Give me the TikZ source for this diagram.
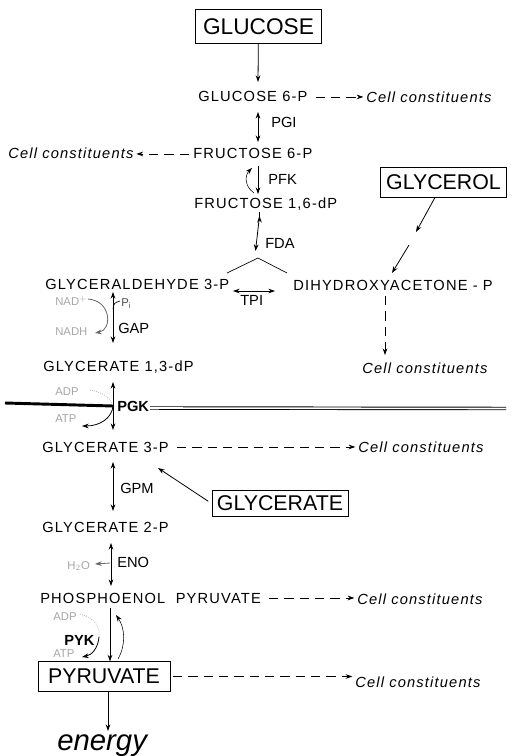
\documentclass[tikz,border=0pt]{standalone}
\usepackage{fontspec}
\setmainfont{Liberation Sans}
\newfontfamily\lab[LetterSpace=8]{Liberation Sans}
\usetikzlibrary{arrows.meta}
\begin{document}
\begin{tikzpicture}[x=0.75pt,y=-0.75pt,
  lbl/.style={font=\lab\fontsize{11}{13}\selectfont, anchor=base west, inner sep=0pt},
  cc/.style={font=\lab\itshape\fontsize{11}{13}\selectfont, anchor=base west, inner sep=0pt},
  enz/.style={font=\fontsize{11}{13}\selectfont, anchor=base west, inner sep=0pt},
  faint/.style={font=\fontsize{8.5}{10}\selectfont, text=black!35, anchor=base west, inner sep=0pt},
  bigbox/.style={draw, line width=0.6pt, font=\fontsize{16}{18}\selectfont, inner sep=0pt},
  tip/.tip={Stealth[length=5pt,width=3.5pt]},
  arr/.style={-tip, line width=0.6pt},
  darr/.style={-tip, line width=0.6pt, dash pattern=on 7pt off 4.5pt},
  rev/.style={tip-tip, line width=0.6pt}]
\useasboundingbox (0,0) rectangle (511,756);

% boxed substrates
\node[bigbox, minimum width=95pt, minimum height=25pt, font=\fontsize{17}{19}\selectfont] (glucose) at (258.5,26.5) {GLUCOSE};
\node[bigbox, minimum width=94pt, minimum height=22.5pt] (glycerol) at (443.5,182) {GLYCEROL};
\node[bigbox, minimum width=102pt, minimum height=20pt] (glycerate) at (280,503.5) {GLYCERATE};
\node[bigbox, minimum width=99pt, minimum height=22pt] (pyruvate) at (104,676.5) {PYRUVATE};

% intermediates
\node[lbl] (g6p) at (198,102) {GLUCOSE 6-P};
\node[cc] (cc1) at (366,103) {Cell constituents};
\node[lbl] (f6p) at (193,159) {FRUCTOSE 6-P};
\node[cc] (cc2) at (8,159) {Cell constituents};
\node[lbl] (fdp) at (194,208) {FRUCTOSE 1,6-dP};
\node[lbl] (gap) at (45,289) {GLYCERALDEHYDE\ 3-P};
\node[lbl] (dhap) at (293,290) {DIHYDROXYACETONE - P};
\node[cc] (cc3) at (362,373) {Cell constituents};
\node[lbl] (bpg) at (43,371) {GLYCERATE 1,3-dP};
\node[lbl] (pg3) at (42,452) {GLYCERATE 3-P};
\node[cc] (cc4) at (358,452) {Cell constituents};
\node[lbl] (pg2) at (42,532) {GLYCERATE 2-P};
\node[lbl] (pep) at (40,603) {PHOSPHOENOL\ \ PYRUVATE};
\node[cc] (cc5) at (357,604) {Cell constituents};
\node[cc] (cc6) at (355,687) {Cell constituents};
\node[font=\itshape\fontsize{22}{24}\selectfont, anchor=base west, inner sep=0pt] (energy) at (57,750) {energy};

% enzymes
\node[enz] (pgi) at (271,128) {PGI};
\node[enz] (pfk) at (268,185) {PFK};
\node[enz] (fda) at (265,248) {FDA};
\node[enz] (tpi) at (240,305) {TPI};
\node[enz] (gapdh) at (118,333) {GAP};
\node[enz, font=\bfseries\fontsize{11}{13}\selectfont] (pgk) at (117,411) {PGK};
\node[enz] (gpm) at (120,493) {GPM};
\node[enz] (eno) at (117,567) {ENO};
\node[enz, font=\bfseries\fontsize{11}{13}\selectfont] (pyk) at (64,645) {PYK};

% cofactors
\node[faint] (nad) at (55,305) {NAD$^+$};
\node[faint] (nadh) at (55,335) {NADH};
\node[faint, text=black!70] (pi) at (121,306) {P$_\mathrm{i}$};
\node[faint] (adp1) at (55,395) {ADP};
\node[faint] (atp1) at (55,422) {ATP};
\node[faint] (h2o) at (67,569) {H$_2$O};
\node[faint] (adp2) at (53,620) {ADP};
\node[faint] (atp2) at (53,657) {ATP};

% coordinates
\coordinate (a1) at (258,82);
\coordinate (pgi1) at (258,112); \coordinate (pgi2) at (258,142);
\coordinate (pfk1) at (258,166); \coordinate (pfk2) at (258,194);
\coordinate (pfkc1) at (254,193); \coordinate (pfkc2) at (252,168);
\coordinate (fda1) at (255.5,216); \coordinate (fda2) at (255.5,251);
\coordinate (fda3) at (259.5,251); \coordinate (fda4) at (259.5,216);
\coordinate (apex) at (258,258); \coordinate (brl) at (227,273); \coordinate (brr) at (287,273);
\coordinate (tpil) at (233,291); \coordinate (tpir) at (275,291);
\coordinate (gm1) at (416,232); \coordinate (gm2) at (409,245); \coordinate (gm3) at (392,273);
\coordinate (d1) at (385,296); \coordinate (d2) at (385,355);
\coordinate (gp1) at (113,292); \coordinate (gp2) at (113,343);
\coordinate (pk1) at (113,382); \coordinate (pk2) at (113,430);
\coordinate (gm4) at (113,462); \coordinate (gm5) at (113,511);
\coordinate (g3in) at (158,468);
\coordinate (en1) at (111,543); \coordinate (en2) at (111,586);
\coordinate (py1) at (110,608);
\coordinate (e1) at (108,731);
\coordinate (thickl) at (5,403); \coordinate (thickr) at (113,406);
\coordinate (dbll) at (150,408); \coordinate (dblr) at (506,408.5);

% main pathway
\draw[arr] (glucose) -- (a1);
\draw[rev] (pgi1) -- (pgi2);
\draw[darr, shorten <=6pt, shorten >=2pt] (g6p.east) -- (g6p.east -| cc1.west);
\draw[darr, shorten <=3pt, shorten >=2pt] (f6p.west) -- (f6p.west -| cc2.east);
\draw[arr] (pfk1) -- (pfk2);
\draw[arr, line width=0.4pt] (pfkc1) .. controls (244,186) and (245,175) .. (pfkc2);
\draw[arr] (fda4) -- (fda2);
\draw[arr] (fda1 -| fda3) -- (fda4 -| fda3);
\draw[line width=0.5pt] (apex) -- (brl);
\draw[line width=0.5pt] (apex) -- (brr);
\draw[rev] (tpil) -- (tpir);
\draw[arr] (glycerol) -- (gm1);
\draw[arr] (gm2) -- (gm3);
\draw[darr] (d1) -- (d2);

% GAP
\draw[rev] (gp1) -- (gp2);
\draw[arr, black!60] (88,299) .. controls (112,301) and (112,330) .. (95,333);
\draw[line width=0.5pt] (113,309) .. controls (114,303) .. (120,301);

% PGK
\draw[rev] (pk1) -- (pk2);
\draw[line width=2.2pt] (thickl) -- (thickr);
\draw[double, double distance=1.2pt, line width=0.7pt] (dbll) -- (dblr);
\draw[black!30, densely dotted, line width=0.6pt] (90,390) .. controls (104,392) and (112,400) .. (113,406);
\draw[arr] (113,406) .. controls (112,418) and (100,426) .. (82,426);

% G3P
\draw[darr, shorten <=6pt, shorten >=2pt] (pg3.east) -- (pg3.east -| cc4.west);
\draw[rev] (gm4) -- (gm5);
\draw[arr, shorten <=3pt] (glycerate.west) -- (g3in);

% ENO
\draw[rev] (en1) -- (en2);
\draw[arr, black!60] (110,563) -- (95,564);

% PEP / PYK
\draw[darr, shorten <=6pt, shorten >=2pt] (pep.east) -- (pep.east -| cc5.west);
\draw[arr] (py1) -- (py1 |- pyruvate.north);
\draw[arr, line width=0.4pt] (118,659) .. controls (126,645) and (125,628) .. (116,615);
\draw[black!30, densely dotted, line width=0.6pt] (80,614) .. controls (96,618) and (100,628) .. (99,637);
\draw[arr] (99,637) .. controls (98,648) and (92,655) .. (82,657);

% pyruvate
\draw[darr, shorten <=2pt, shorten >=2pt] (pyruvate.east) -- (pyruvate.east -| cc6.west);
\draw[arr] (pyruvate.south -| e1) -- (e1);
\end{tikzpicture}
\end{document}
